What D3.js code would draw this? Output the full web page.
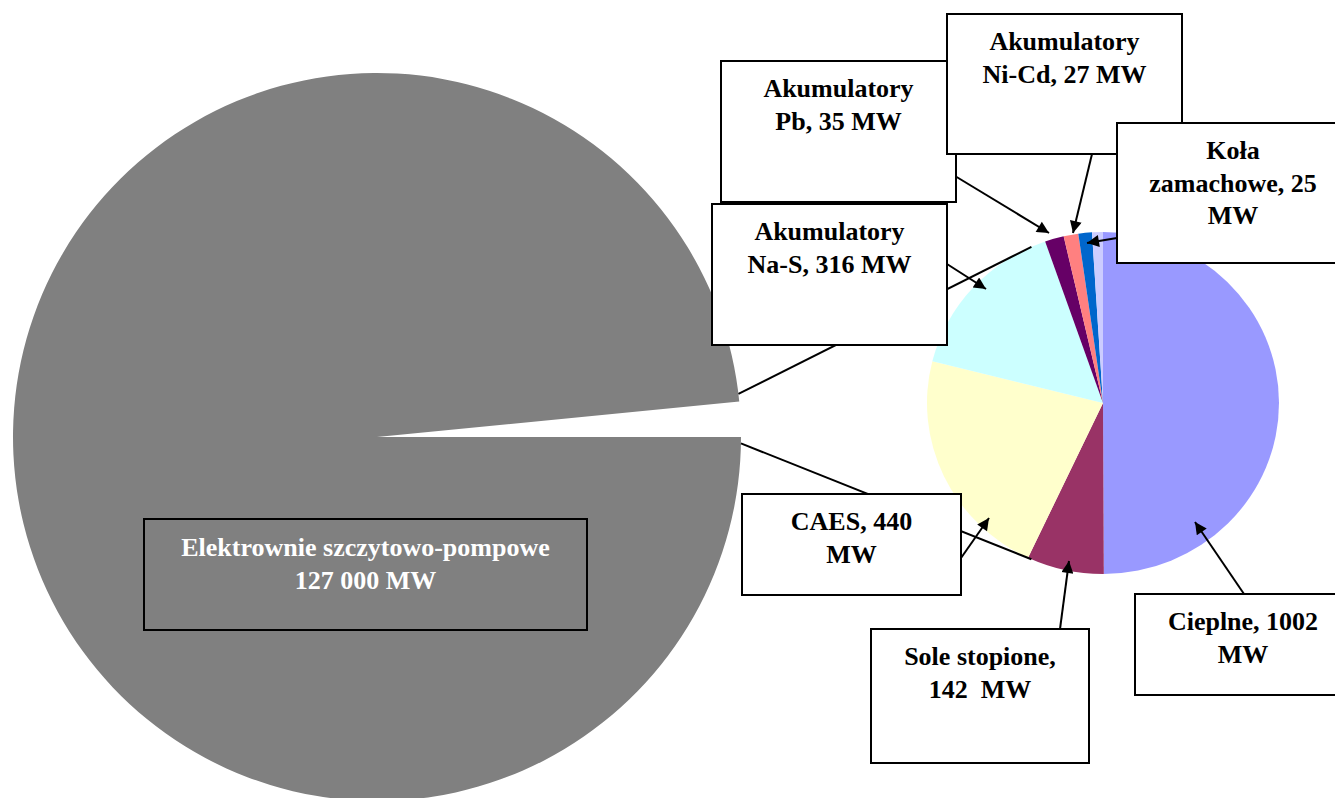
<!DOCTYPE html>
<html>
<head>
<meta charset="utf-8">
<script src="https://cdn.jsdelivr.net/npm/d3@7"></script>
<style>
  body { margin: 0; background: #fff; }
  svg { display: block; }
  text { font-family: "Liberation Serif", "Times New Roman", serif; font-weight: bold; font-size: 26px; white-space: pre; }
</style>
</head>
<body>
<svg id="chart" width="1335" height="798"></svg>
<script>
// Installed capacity of energy storage technologies (MW)
const pumpedName = "Elektrownie szczytowo-pompowe";
const pumpedValue = 127000;

// Breakdown of all remaining technologies, in clockwise order from 12 o'clock
const detailCategories = ["Cieplne", "Sole stopione", "CAES", "Akumulatory Na-S",
                          "Akumulatory Pb", "Akumulatory Ni-Cd", "Koła zamachowe", "Inne"];
const detailValues = [1002, 142, 440, 316, 35, 27, 25, 20];
const detailColors = ["#9999FF", "#993366", "#FFFFCC", "#CCFFFF",
                      "#660066", "#FF8080", "#0066CC", "#CCCCFF"];

// Callout text; {v} is replaced by the slice value
const labelTemplates = [
  ["Akumulatory", "Pb, {v} MW"],
  ["Akumulatory", "Ni-Cd, {v} MW"],
  ["Koła", "zamachowe, {v}", "MW"],
  ["Akumulatory", "Na-S, {v} MW"],
  ["CAES, {v}", "MW"],
  ["Sole stopione,", "{v}  MW"],
  ["Cieplne, {v}", "MW"]
];
const labelIndex = [4, 5, 6, 3, 2, 1, 0];

// Callout geometry: box [x, y, w, h], arrow start, arrow tip
const labelBoxes = [
  [721, 61, 235, 141], [947, 14, 235, 140], [1117, 123, 232, 140],
  [712, 204, 235, 141], [742, 494, 219, 101], [871, 629, 218, 134], [1135, 594, 216, 101]
];
const arrowFrom = [[955, 176], [1092, 154], [1117, 238], [947, 264], [961, 558], [1060, 629], [1244, 594]];
const arrowTo   = [[1049, 233], [1073, 233], [1087, 243], [986, 289], [989, 518], [1069, 561], [1195, 522]];

const svg = d3.select("#chart");

const big = { cx: 377, cy: 437, r: 364 };
const small = { cx: 1103, cy: 403, rx: 176, ry: 171 };

// ---- main pie ----
const otherTotal = d3.sum(detailValues);
const mainArcs = d3.pie().sort(null)
  .startAngle(Math.PI / 2).endAngle(Math.PI / 2 + 2 * Math.PI)([pumpedValue, otherTotal]);
const bigArc = d3.arc().innerRadius(0).outerRadius(big.r);

svg.append("g")
  .attr("transform", `translate(${big.cx},${big.cy})`)
  .append("path")
  .attr("d", bigArc(mainArcs[0]))
  .attr("fill", "#808080");

// ---- secondary pie ----
const detailArcs = d3.pie().sort(null)(detailValues);
const smallArc = d3.arc().innerRadius(0).outerRadius(small.rx);

svg.append("g")
  .attr("transform", `translate(${small.cx},${small.cy}) scale(1,${small.ry / small.rx})`)
  .selectAll("path")
  .data(detailArcs)
  .join("path")
  .attr("d", smallArc)
  .attr("fill", (d, i) => detailColors[i]);

// ---- connector lines between the two pies ----
const deg = Math.PI / 180;
const onBig = a => [big.cx + big.r * Math.sin(a), big.cy - big.r * Math.cos(a)];
const onSmall = a => [small.cx + small.rx * Math.sin(a), small.cy - small.ry * Math.cos(a)];
const connectors = [
  [onBig(mainArcs[1].startAngle - 1.2 * deg), onSmall(-24 * deg)],
  [onBig(mainArcs[1].endAngle + 1 * deg), onSmall(204 * deg)]
];
svg.append("g").selectAll("line")
  .data(connectors)
  .join("line")
  .attr("x1", d => d[0][0]).attr("y1", d => d[0][1])
  .attr("x2", d => d[1][0]).attr("y2", d => d[1][1])
  .attr("stroke", "#000").attr("stroke-width", 2);

// ---- arrowhead ----
svg.append("defs").append("marker")
  .attr("id", "head")
  .attr("viewBox", "0 0 10 10")
  .attr("refX", 10).attr("refY", 5)
  .attr("markerUnits", "userSpaceOnUse")
  .attr("markerWidth", 16).attr("markerHeight", 12)
  .attr("orient", "auto")
  .append("path").attr("d", "M0,0L10,5L0,10Z").attr("fill", "#000");

// ---- main label ----
const mainBox = [144, 519, 443, 111];
svg.append("rect")
  .attr("x", mainBox[0]).attr("y", mainBox[1])
  .attr("width", mainBox[2]).attr("height", mainBox[3])
  .attr("fill", "none").attr("stroke", "#000").attr("stroke-width", 2);
const mainLabel = [pumpedName, d3.format(",")(pumpedValue).replace(/,/g, " ") + " MW"];
svg.append("text")
  .attr("x", mainBox[0] + mainBox[2] / 2).attr("y", mainBox[1] + 37)
  .attr("text-anchor", "middle").attr("fill", "#fff")
  .selectAll("tspan").data(mainLabel).join("tspan")
  .attr("x", mainBox[0] + mainBox[2] / 2)
  .attr("dy", (d, i) => i ? 32.5 : 0)
  .text(d => d);

// ---- callouts for the secondary pie ----
labelTemplates.forEach((tpl, k) => {
  const v = detailValues[labelIndex[k]];
  const [x, y, w, h] = labelBoxes[k];
  const g = svg.append("g");
  g.append("line")
    .attr("x1", arrowFrom[k][0]).attr("y1", arrowFrom[k][1])
    .attr("x2", arrowTo[k][0]).attr("y2", arrowTo[k][1])
    .attr("stroke", "#000").attr("stroke-width", 2)
    .attr("marker-end", "url(#head)");
  g.append("rect")
    .attr("x", x).attr("y", y).attr("width", w).attr("height", h)
    .attr("fill", "#fff").attr("stroke", "#000").attr("stroke-width", 2);
  g.append("text")
    .attr("text-anchor", "middle").attr("fill", "#000")
    .attr("y", y + 36)
    .selectAll("tspan").data(tpl.map(s => s.replace("{v}", v))).join("tspan")
    .attr("x", x + w / 2)
    .attr("dy", (d, i) => i ? 32.5 : 0)
    .text(d => d);
});
</script>
</body>
</html>
